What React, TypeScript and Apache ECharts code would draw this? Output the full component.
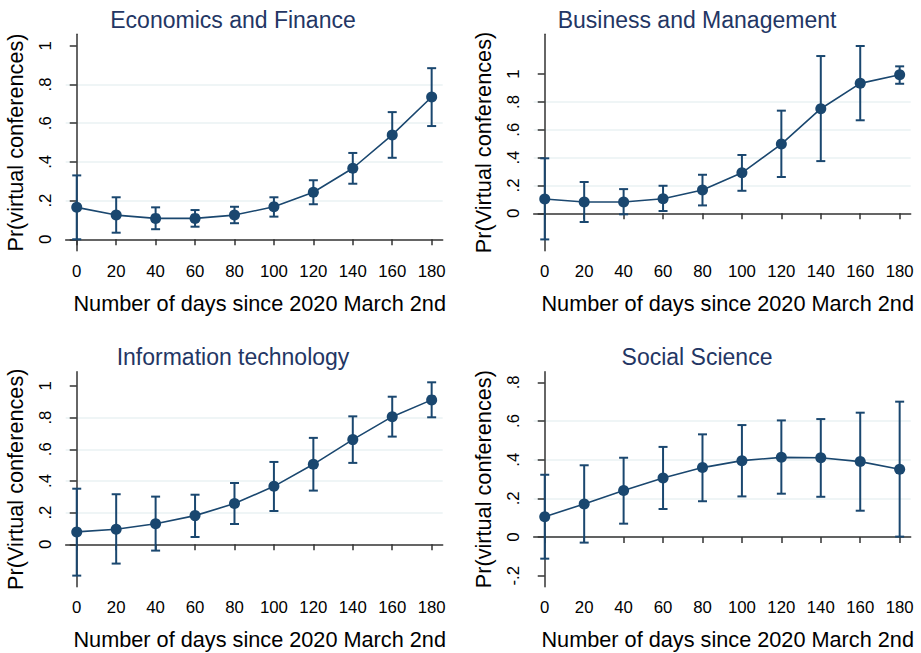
import React, { useEffect, useRef } from "react";
import * as echarts from "echarts";

// ---------- data ----------
const days = [0, 20, 40, 60, 80, 100, 120, 140, 160, 180];
const xTickLabels = [0, 20, 40, 60, 80, 100, 120, 140, 160, 180];
const yTicksMain = [0, 0.2, 0.4, 0.6, 0.8, 1];
const yTicksSocial = [-0.2, 0, 0.2, 0.4, 0.6, 0.8];

const panelTitles = [
  "Economics and Finance",
  "Business and Management",
  "Information technology",
  "Social Science",
];
const yTitles = [
  "Pr(virtual conferences)",
  "Pr(Virtual conferences)",
  "Pr(Virtual conferences)",
  "Pr(virtual conferences)",
];
const xTitle = "Number of days since 2020 March 2nd";

const econMean = [0.165, 0.125, 0.108, 0.108, 0.125, 0.168, 0.243, 0.367, 0.539, 0.735];
const econLow = [0.0, 0.034, 0.052, 0.065, 0.083, 0.117, 0.181, 0.287, 0.421, 0.585];
const econHigh = [0.33, 0.217, 0.165, 0.151, 0.168, 0.217, 0.305, 0.446, 0.657, 0.884];

const busMean = [0.103, 0.081, 0.081, 0.105, 0.167, 0.291, 0.497, 0.751, 0.933, 0.995];
const busLow = [-0.187, -0.062, -0.007, 0.017, 0.057, 0.162, 0.261, 0.375, 0.668, 0.93];
const busHigh = [0.395, 0.225, 0.174, 0.198, 0.277, 0.419, 0.737, 1.129, 1.201, 1.055];

const itMean = [0.078, 0.095, 0.13, 0.181, 0.257, 0.366, 0.505, 0.661, 0.806, 0.912];
const itLow = [-0.198, -0.122, -0.04, 0.046, 0.128, 0.21, 0.339, 0.514, 0.68, 0.802];
const itHigh = [0.351, 0.316, 0.301, 0.313, 0.387, 0.52, 0.672, 0.808, 0.932, 1.023];

const socMean = [0.105, 0.171, 0.24, 0.305, 0.359, 0.395, 0.412, 0.41, 0.39, 0.35];
const socLow = [-0.112, -0.029, 0.069, 0.145, 0.185, 0.21, 0.224, 0.208, 0.136, 0.002];
const socHigh = [0.322, 0.371, 0.41, 0.466, 0.531, 0.579, 0.603, 0.61, 0.643, 0.7];

const yRanges = [
  [-0.059, 1.059],
  [-0.268, 1.285],
  [-0.268, 1.09],
  [-0.257, 0.855],
];
const xRange = [-5.6, 185.6];

// ---------- layout / style ----------
const FONT = "'Liberation Sans', Arial, sans-serif";
const NAVY = "#1a476f";
const TITLE_COLOR = "#233664";
const AXIS_COLOR = "#333333";
const GRID_COLOR = "#eaf2f3";

const grids = [
  { left: 65.7, top: 34.3, width: 377, height: 216.4 },
  { left: 533.7, top: 34.3, width: 377, height: 216.4 },
  { left: 65.7, top: 371.7, width: 377, height: 215 },
  { left: 533.7, top: 371.7, width: 377, height: 215 },
];
const titlePos = [
  { x: 228, y: 3 },
  { x: 692, y: 3 },
  { x: 228, y: 340 },
  { x: 692, y: 340 },
];

const fmtY = (v: number) => {
  const s = (Math.round(v * 10) / 10).toString();
  return s.replace(/^(-?)0\./, "$1.");
};

export default function App() {
  const ref = useRef<HTMLDivElement>(null);

  useEffect(() => {
    if (!ref.current) return;
    const chart = echarts.init(ref.current, null, { renderer: "svg" });

    const means = [econMean, busMean, itMean, socMean];
    const lows = [econLow, busLow, itLow, socLow];
    const highs = [econHigh, busHigh, itHigh, socHigh];
    const yTickSets = [yTicksMain, yTicksMain, yTicksMain, yTicksSocial];

    const series: any[] = [];
    means.forEach((m, i) => {
      series.push({
        type: "custom",
        xAxisIndex: i,
        yAxisIndex: i,
        z: 2,
        encode: { x: 0, y: [1, 2] },
        data: days.map((d, k) => [d, lows[i][k], highs[i][k]]),
        renderItem: (params: any, api: any) => {
          const x = api.value(0);
          const p1 = api.coord([x, api.value(1)]);
          const p2 = api.coord([x, api.value(2)]);
          const w = 4.5;
          const style = { stroke: NAVY, lineWidth: 2 };
          return {
            type: "group",
            children: [
              { type: "line", shape: { x1: p1[0], y1: p1[1], x2: p2[0], y2: p2[1] }, style },
              { type: "line", shape: { x1: p1[0] - w, y1: p1[1], x2: p1[0] + w, y2: p1[1] }, style },
              { type: "line", shape: { x1: p2[0] - w, y1: p2[1], x2: p2[0] + w, y2: p2[1] }, style },
            ],
          };
        },
      });
      series.push({
        type: "line",
        xAxisIndex: i,
        yAxisIndex: i,
        z: 3,
        data: days.map((d, k) => [d, m[k]]),
        symbol: "circle",
        symbolSize: 11,
        lineStyle: { color: NAVY, width: 1.6 },
        itemStyle: { color: NAVY },
      });
    });

    const option: any = {
      animation: false,
      backgroundColor: "#ffffff",
      title: panelTitles.map((t, i) => ({
        text: t,
        left: titlePos[i].x,
        top: titlePos[i].y,
        textAlign: "center",
        textStyle: { fontFamily: FONT, fontSize: 23, fontWeight: "normal", color: TITLE_COLOR },
      })),
      grid: grids.map((g) => ({ ...g, containLabel: false })),
      xAxis: grids.map((_, i) => ({
        type: "value",
        gridIndex: i,
        min: xRange[0],
        max: xRange[1],
        name: xTitle,
        nameLocation: "middle",
        nameGap: 42,
        nameTextStyle: { fontFamily: FONT, fontSize: 21.7, color: "#000", padding: [0, 0, 0, 11] },
        axisLine: { show: true, lineStyle: { color: AXIS_COLOR, width: 1.5 } },
        axisTick: { show: true, length: 6, customValues: xTickLabels, lineStyle: { color: AXIS_COLOR, width: 1.5 } },
        axisLabel: { customValues: xTickLabels, margin: 12, fontFamily: FONT, fontSize: 16.8, color: "#000" },
        splitLine: { show: false },
      })),
      yAxis: grids.map((_, i) => ({
        type: "value",
        gridIndex: i,
        min: yRanges[i][0],
        max: yRanges[i][1],
        name: yTitles[i],
        nameLocation: "middle",
        nameGap: 39,
        nameTextStyle: { fontFamily: FONT, fontSize: 21.7, color: "#000" },
        axisLine: { show: true, lineStyle: { color: AXIS_COLOR, width: 1.5 } },
        axisTick: { show: true, length: 7, customValues: yTickSets[i], lineStyle: { color: AXIS_COLOR, width: 1.5 } },
        axisLabel: {
          customValues: yTickSets[i],
          rotate: 90,
          margin: 12,
          fontFamily: FONT,
          fontSize: 16.8,
          color: "#000",
          formatter: (v: number) => fmtY(v),
        },
        splitLine: { show: true, showMinLine: false, showMaxLine: false, lineStyle: { color: GRID_COLOR, width: 1.5 } },
      })),
      series,
    };

    chart.setOption(option);
    return () => chart.dispose();
  }, []);

  return (
    <div
      ref={ref}
      style={{ position: "absolute", left: 0, top: 0, width: 921, height: 653, background: "#fff" }}
    />
  );
}
